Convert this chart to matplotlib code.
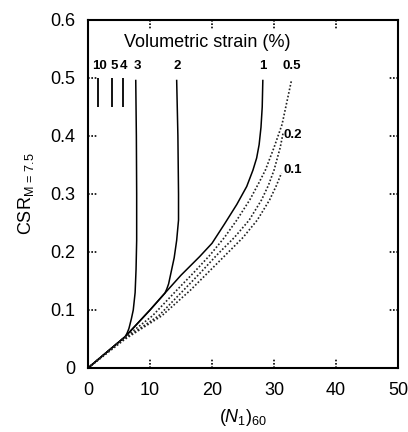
import matplotlib
matplotlib.use("Agg")
import matplotlib.pyplot as plt

# ---- data ----
env_N = [0, 2, 4, 6, 8, 10, 12.4, 15, 18, 20, 22, 24, 25.6, 26.6, 27.2, 27.6, 27.9, 28.1, 28.2]
env_csr = [0, 0.018, 0.036, 0.054, 0.077, 0.100, 0.129, 0.160, 0.192, 0.215, 0.248,
           0.282, 0.313, 0.341, 0.362, 0.385, 0.415, 0.450, 0.497]

c3_N = [0, 2, 4, 6, 6.3, 6.6, 7.0, 7.3, 7.6, 7.75, 7.85, 7.85, 7.8, 7.7]
c3_csr = [0, 0.018, 0.036, 0.054, 0.060, 0.068, 0.085, 0.100, 0.130, 0.170, 0.220,
          0.300, 0.400, 0.497]

c2_N = [0, 2, 4, 6, 8, 10, 12.4, 12.7, 13.0, 13.5, 13.9, 14.3, 14.6, 14.6, 14.5, 14.3]
c2_csr = [0, 0.018, 0.036, 0.054, 0.077, 0.100, 0.129, 0.136, 0.145, 0.170, 0.190,
          0.220, 0.255, 0.300, 0.400, 0.497]

d05_N = [0, 5.6, 10.4, 14.3, 17.1, 19.7, 22.0, 24.0, 26.1, 27.6, 28.6, 30.0, 31.3, 32.1, 32.8]
d05_csr = [0, 0.05, 0.09, 0.134, 0.165, 0.195, 0.225, 0.255, 0.29, 0.32, 0.341, 0.38,
           0.42, 0.46, 0.495]
d02_N = [0, 5.8, 11.4, 15.4, 18.2, 20.8, 23.6, 26.0, 28.0, 29.1, 30.0, 31.0, 31.5]
d02_csr = [0, 0.05, 0.09, 0.134, 0.165, 0.195, 0.225, 0.255, 0.29, 0.315, 0.341, 0.38, 0.407]
d01_N = [0, 6.0, 11.9, 16.5, 19.4, 22.2, 25.0, 27.3, 29.3, 30.4, 31.2]
d01_csr = [0, 0.05, 0.09, 0.134, 0.165, 0.195, 0.225, 0.255, 0.29, 0.315, 0.336]

vert_N = [1.6, 3.9, 5.6]          # 10 %, 5 %, 4 %
vert_csr = [0.45, 0.50]

curve_labels = ["10", "5", "4", "3", "2", "1", "0.5", "0.2", "0.1"]
x_ticks = [0, 10, 20, 30, 40, 50]
y_ticks = [0, 0.1, 0.2, 0.3, 0.4, 0.5, 0.6]
y_ticklabels = ["0", "0.1", "0.2", "0.3", "0.4", "0.5", "0.6"]

# ---- styling ----
plt.rcParams["font.family"] = ["Liberation Sans", "DejaVu Sans"]
plt.rcParams["mathtext.fontset"] = "custom"
plt.rcParams["mathtext.rm"] = "Liberation Sans"
plt.rcParams["mathtext.it"] = "Liberation Sans:italic"

fig = plt.figure(figsize=(4.08, 4.32), dpi=100)
ax = fig.add_axes([88/408, 1-368/432, 310/408, 348/432])

solid = dict(color="black", lw=1.1, solid_capstyle="butt", solid_joinstyle="round")
dotted = dict(color="#222222", lw=1.2, linestyle=(0, (1, 1.2)))

ax.plot(env_N, env_csr, **solid)
ax.plot(c3_N, c3_csr, **solid)
ax.plot(c2_N, c2_csr, **solid)
ax.plot(d05_N, d05_csr, **dotted)
ax.plot(d02_N, d02_csr, **dotted)
ax.plot(d01_N, d01_csr, **dotted)
ax.vlines(vert_N, vert_csr[0], vert_csr[1], color="black", lw=1.3)

ax.set_xlim(0, 50)
ax.set_ylim(0, 0.6)
ax.set_xticks(x_ticks)
ax.set_yticks(y_ticks)
ax.set_yticklabels(y_ticklabels)
ax.tick_params(length=0, labelsize=13, pad=9)
ax.tick_params(axis="x", pad=10)
for s in ax.spines.values():
    s.set_linewidth(1.5)

# dotted inward ticks (gnuplot style)
tk = dict(color="black", lw=1.2, linestyle=(0, (1, 1)))
for xv in x_ticks[1:-1]:
    ax.plot([xv, xv], [0, 0.03], transform=ax.get_xaxis_transform(), **tk)
    ax.plot([xv, xv], [1, 0.97], transform=ax.get_xaxis_transform(), **tk)
for yv in y_ticks[1:-1]:
    ax.plot([0, 0.033], [yv, yv], transform=ax.get_yaxis_transform(), **tk)
    ax.plot([1, 0.967], [yv, yv], transform=ax.get_yaxis_transform(), **tk)

# labels
ax.text(19.2, 0.562, "Volumetric strain (%)", fontsize=13, ha="center", va="center")
lab_pos = {"10": (1.8, 0.521), "5": (4.2, 0.521), "4": (5.8, 0.521), "3": (7.9, 0.521),
           "2": (14.4, 0.521), "1": (28.2, 0.521), "0.5": (32.9, 0.521),
           "0.2": (33.1, 0.402), "0.1": (33.1, 0.341)}
for lab in curve_labels:
    x, y = lab_pos[lab]
    ax.text(x, y, lab, fontsize=9.5, fontweight="bold", ha="center", va="center")

ax.set_xlabel(r"$(N_{\mathit{1}})_{\mathrm{60}}$", fontsize=13, labelpad=6)
ax.set_ylabel(r"CSR$_{\mathrm{M\,=\,7.5}}$", fontsize=13, labelpad=10)

fig.savefig("out.png", dpi=100)
